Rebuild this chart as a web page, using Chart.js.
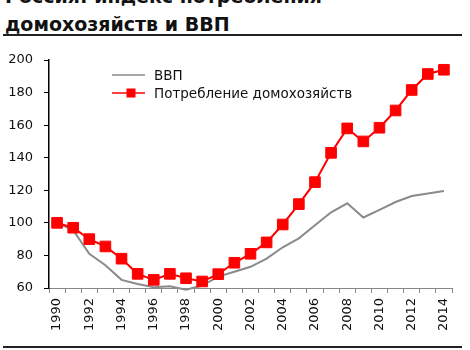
<!DOCTYPE html>
<html>
<head>
<meta charset="utf-8">
<script src="https://cdn.jsdelivr.net/npm/chart.js@4"></script>
<style>
  body { margin: 0; background: #fff; }
  #wrap { position: relative; width: 470px; height: 350px; overflow: hidden; }
  #title {
    position: absolute; left: 5px; top: -18px;
    font: bold 19px "DejaVu Sans", sans-serif; line-height: 28px; color: #111;
  }
  .rule { position: absolute; left: 3px; width: 459px; background: #222; }
  #chart { position: absolute; left: 0; top: 0; }
</style>
</head>
<body>
<div id="wrap">
  <div id="title">Россия: индекс потребления<br>домохозяйств и ВВП</div>
  <div class="rule" style="top:34px;height:2px"></div>
  <canvas id="chart" width="470" height="350"></canvas>
  <div class="rule" style="top:346px;height:2px"></div>
</div>
<script>
const years = ['1990', '1991', '1992', '1993', '1994', '1995', '1996', '1997', '1998', '1999',
  '2000', '2001', '2002', '2003', '2004', '2005', '2006', '2007', '2008', '2009',
  '2010', '2011', '2012', '2013', '2014'];
const gdp = [100, 95.5, 81, 74, 65, 62.5, 60.5, 61, 59, 61.5,
  67, 70, 73, 78, 85, 90.5, 98.5, 106.5, 112, 103.3,
  108, 112.8, 116.5, 118, 119.5];
const consumption = [100, 97, 90, 85.5, 78, 68.7, 65, 68.7, 66, 64,
  68.5, 75.5, 81, 88, 99, 111.5, 125, 143, 158, 150,
  158.4, 169, 181.6, 191.4, 194];
const seriesNames = ['ВВП', 'Потребление домохозяйств'];

const textFont = { family: '"DejaVu Sans", sans-serif', size: 13 };
const textColor = '#111';

// legend sits inside the plot, top-left
const insideLegend = {
  id: 'insideLegend',
  afterDraw(chart) {
    const ctx = chart.ctx;
    const x0 = 112, x1 = 145, tx = 154;
    const rows = [75, 93];
    ctx.save();
    ctx.font = '13.5px "DejaVu Sans", sans-serif';
    ctx.textBaseline = 'middle';
    chart.data.datasets.forEach((ds, i) => {
      const y = rows[i];
      ctx.strokeStyle = ds.borderColor;
      ctx.lineWidth = 1.5;
      ctx.beginPath();
      ctx.moveTo(x0, y);
      ctx.lineTo(x1, y);
      ctx.stroke();
      if (ds.pointRadius > 0) {
        ctx.fillStyle = ds.pointBackgroundColor;
        ctx.fillRect(131 - 4.5, y - 4.5, 9, 9);
      }
      ctx.fillStyle = textColor;
      ctx.fillText(ds.label, tx, y + 1);
    });
    ctx.restore();
  }
};

new Chart(document.getElementById('chart'), {
  type: 'line',
  data: {
    labels: years,
    datasets: [{
      label: seriesNames[0],
      data: gdp,
      borderColor: '#8a8a8a',
      borderWidth: 2,
      pointRadius: 0,
      tension: 0,
      clip: false,
      order: 1
    }, {
      label: seriesNames[1],
      data: consumption,
      borderColor: '#ff0000',
      borderWidth: 2,
      pointStyle: 'rect',
      pointRadius: 7.5,
      pointBackgroundColor: '#ff0000',
      pointBorderColor: '#ff0000',
      pointBorderWidth: 1,
      tension: 0,
      order: 0
    }]
  },
  options: {
    responsive: false,
    animation: false,
    layout: { padding: { top: 60, right: 18, left: 0, bottom: 0 } },
    plugins: {
      legend: { display: false },
      tooltip: { enabled: false }
    },
    scales: {
      x: {
        offset: true,
        grid: { offset: true, drawOnChartArea: false, tickLength: 5, color: '#888' },
        border: { color: '#888', width: 1 },
        ticks: {
          autoSkip: false,
          minRotation: 90,
          maxRotation: 90,
          padding: 5,
          font: textFont,
          color: textColor,
          callback: (v, i) => (i % 2 === 0 ? years[i] : '')
        },
        afterFit: s => { s.height = 62; }
      },
      y: {
        min: 60,
        max: 200,
        ticks: { stepSize: 20, padding: 11, font: textFont, color: textColor },
        grid: { drawOnChartArea: false, tickLength: 5, color: '#000' },
        border: { color: '#000', width: 1.5 },
        afterFit: s => { s.width = 49; }
      }
    }
  },
  plugins: [insideLegend]
});
</script>
</body>
</html>
